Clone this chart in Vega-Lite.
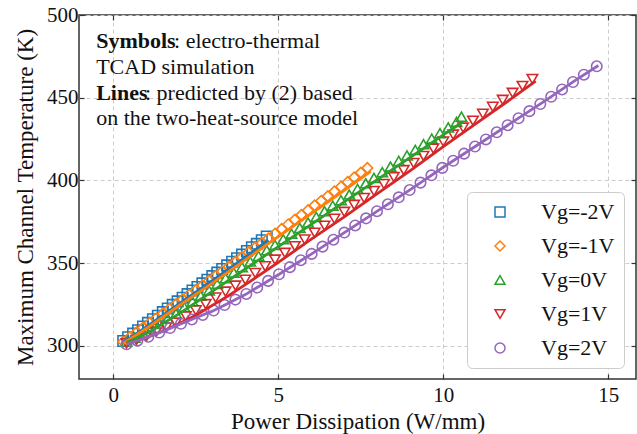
{
  "$schema": "https://vega.github.io/schema/vega-lite/v6.json",
  "width": 557,
  "height": 364,
  "autosize": {"type": "none"},
  "padding": {"left": 79, "top": 15, "right": 1, "bottom": 55},
  "background": "white",
  "config": {
    "view": {"stroke": "#333", "strokeWidth": 1.5},
    "font": "Liberation Serif"
  },
  "datasets": {
    "sim": [
      {"s": "Vg=-2V", "p": 0.30, "t": 303.0}, {"s": "Vg=-2V", "p": 0.45, "t": 305.2}, {"s": "Vg=-2V", "p": 0.60, "t": 307.4}, {"s": "Vg=-2V", "p": 0.75, "t": 309.5}, {"s": "Vg=-2V", "p": 0.90, "t": 311.7}, {"s": "Vg=-2V", "p": 1.05, "t": 313.9}, {"s": "Vg=-2V", "p": 1.20, "t": 316.1}, {"s": "Vg=-2V", "p": 1.35, "t": 318.2}, {"s": "Vg=-2V", "p": 1.50, "t": 320.4}, {"s": "Vg=-2V", "p": 1.65, "t": 322.6}, {"s": "Vg=-2V", "p": 1.80, "t": 324.8}, {"s": "Vg=-2V", "p": 1.95, "t": 326.9}, {"s": "Vg=-2V", "p": 2.10, "t": 329.1}, {"s": "Vg=-2V", "p": 2.25, "t": 331.3}, {"s": "Vg=-2V", "p": 2.40, "t": 333.5}, {"s": "Vg=-2V", "p": 2.55, "t": 335.6}, {"s": "Vg=-2V", "p": 2.70, "t": 337.8}, {"s": "Vg=-2V", "p": 2.85, "t": 340.0}, {"s": "Vg=-2V", "p": 3.00, "t": 342.2}, {"s": "Vg=-2V", "p": 3.15, "t": 344.3}, {"s": "Vg=-2V", "p": 3.30, "t": 346.5}, {"s": "Vg=-2V", "p": 3.45, "t": 348.7}, {"s": "Vg=-2V", "p": 3.60, "t": 350.9}, {"s": "Vg=-2V", "p": 3.75, "t": 353.0}, {"s": "Vg=-2V", "p": 3.90, "t": 355.2}, {"s": "Vg=-2V", "p": 4.05, "t": 357.4}, {"s": "Vg=-2V", "p": 4.20, "t": 359.6}, {"s": "Vg=-2V", "p": 4.35, "t": 361.7}, {"s": "Vg=-2V", "p": 4.50, "t": 363.9}, {"s": "Vg=-2V", "p": 4.65, "t": 366.1},
      {"s": "Vg=-1V", "p": 0.3, "t": 302.5}, {"s": "Vg=-1V", "p": 0.5, "t": 305.3}, {"s": "Vg=-1V", "p": 0.7, "t": 308.2}, {"s": "Vg=-1V", "p": 0.9, "t": 311.0}, {"s": "Vg=-1V", "p": 1.1, "t": 313.9}, {"s": "Vg=-1V", "p": 1.3, "t": 316.7}, {"s": "Vg=-1V", "p": 1.5, "t": 319.5}, {"s": "Vg=-1V", "p": 1.7, "t": 322.4}, {"s": "Vg=-1V", "p": 1.9, "t": 325.2}, {"s": "Vg=-1V", "p": 2.1, "t": 328.1}, {"s": "Vg=-1V", "p": 2.3, "t": 330.9}, {"s": "Vg=-1V", "p": 2.5, "t": 333.7}, {"s": "Vg=-1V", "p": 2.7, "t": 336.6}, {"s": "Vg=-1V", "p": 2.9, "t": 339.4}, {"s": "Vg=-1V", "p": 3.1, "t": 342.3}, {"s": "Vg=-1V", "p": 3.3, "t": 345.1}, {"s": "Vg=-1V", "p": 3.5, "t": 347.9}, {"s": "Vg=-1V", "p": 3.7, "t": 350.8}, {"s": "Vg=-1V", "p": 3.9, "t": 353.6}, {"s": "Vg=-1V", "p": 4.1, "t": 356.5}, {"s": "Vg=-1V", "p": 4.3, "t": 359.3}, {"s": "Vg=-1V", "p": 4.5, "t": 362.1}, {"s": "Vg=-1V", "p": 4.7, "t": 365.0}, {"s": "Vg=-1V", "p": 4.9, "t": 367.8}, {"s": "Vg=-1V", "p": 5.1, "t": 370.7}, {"s": "Vg=-1V", "p": 5.3, "t": 373.5}, {"s": "Vg=-1V", "p": 5.5, "t": 376.3}, {"s": "Vg=-1V", "p": 5.7, "t": 379.2}, {"s": "Vg=-1V", "p": 5.9, "t": 382.0}, {"s": "Vg=-1V", "p": 6.1, "t": 384.9}, {"s": "Vg=-1V", "p": 6.3, "t": 387.7}, {"s": "Vg=-1V", "p": 6.5, "t": 390.5}, {"s": "Vg=-1V", "p": 6.7, "t": 393.4}, {"s": "Vg=-1V", "p": 6.9, "t": 396.2}, {"s": "Vg=-1V", "p": 7.1, "t": 399.1}, {"s": "Vg=-1V", "p": 7.3, "t": 401.9}, {"s": "Vg=-1V", "p": 7.5, "t": 404.7}, {"s": "Vg=-1V", "p": 7.7, "t": 407.6},
      {"s": "Vg=0V", "p": 0.40, "t": 302.5}, {"s": "Vg=0V", "p": 0.65, "t": 305.0}, {"s": "Vg=0V", "p": 0.90, "t": 307.5}, {"s": "Vg=0V", "p": 1.15, "t": 310.3}, {"s": "Vg=0V", "p": 1.40, "t": 313.3}, {"s": "Vg=0V", "p": 1.65, "t": 316.5}, {"s": "Vg=0V", "p": 1.90, "t": 319.5}, {"s": "Vg=0V", "p": 2.15, "t": 323.5}, {"s": "Vg=0V", "p": 2.40, "t": 326.9}, {"s": "Vg=0V", "p": 2.65, "t": 330.3}, {"s": "Vg=0V", "p": 2.90, "t": 333.6}, {"s": "Vg=0V", "p": 3.15, "t": 337.5}, {"s": "Vg=0V", "p": 3.40, "t": 340.9}, {"s": "Vg=0V", "p": 3.65, "t": 344.3}, {"s": "Vg=0V", "p": 3.90, "t": 347.6}, {"s": "Vg=0V", "p": 4.15, "t": 351.0}, {"s": "Vg=0V", "p": 4.40, "t": 354.4}, {"s": "Vg=0V", "p": 4.65, "t": 357.8}, {"s": "Vg=0V", "p": 4.90, "t": 361.1}, {"s": "Vg=0V", "p": 5.15, "t": 364.5}, {"s": "Vg=0V", "p": 5.40, "t": 367.9}, {"s": "Vg=0V", "p": 5.65, "t": 371.3}, {"s": "Vg=0V", "p": 5.90, "t": 374.6}, {"s": "Vg=0V", "p": 6.15, "t": 378.0}, {"s": "Vg=0V", "p": 6.40, "t": 381.4}, {"s": "Vg=0V", "p": 6.65, "t": 384.8}, {"s": "Vg=0V", "p": 6.90, "t": 388.1}, {"s": "Vg=0V", "p": 7.15, "t": 391.5}, {"s": "Vg=0V", "p": 7.40, "t": 394.9}, {"s": "Vg=0V", "p": 7.65, "t": 398.3}, {"s": "Vg=0V", "p": 7.90, "t": 401.6}, {"s": "Vg=0V", "p": 8.15, "t": 405.0}, {"s": "Vg=0V", "p": 8.40, "t": 408.4}, {"s": "Vg=0V", "p": 8.65, "t": 411.8}, {"s": "Vg=0V", "p": 8.90, "t": 415.1}, {"s": "Vg=0V", "p": 9.15, "t": 418.5}, {"s": "Vg=0V", "p": 9.40, "t": 421.9}, {"s": "Vg=0V", "p": 9.65, "t": 425.3}, {"s": "Vg=0V", "p": 9.90, "t": 428.6}, {"s": "Vg=0V", "p": 10.15, "t": 432.0}, {"s": "Vg=0V", "p": 10.40, "t": 435.4}, {"s": "Vg=0V", "p": 10.55, "t": 438.5},
      {"s": "Vg=1V", "p": 0.4, "t": 301.5}, {"s": "Vg=1V", "p": 0.7, "t": 303.5}, {"s": "Vg=1V", "p": 1.0, "t": 305.8}, {"s": "Vg=1V", "p": 1.3, "t": 308.5}, {"s": "Vg=1V", "p": 1.6, "t": 311.0}, {"s": "Vg=1V", "p": 1.9, "t": 314.0}, {"s": "Vg=1V", "p": 2.2, "t": 317.8}, {"s": "Vg=1V", "p": 2.5, "t": 321.5}, {"s": "Vg=1V", "p": 2.8, "t": 325.2}, {"s": "Vg=1V", "p": 3.1, "t": 329.2}, {"s": "Vg=1V", "p": 3.4, "t": 332.8}, {"s": "Vg=1V", "p": 3.7, "t": 336.4}, {"s": "Vg=1V", "p": 4.0, "t": 340.0}, {"s": "Vg=1V", "p": 4.3, "t": 344.0}, {"s": "Vg=1V", "p": 4.6, "t": 348.1}, {"s": "Vg=1V", "p": 4.9, "t": 352.1}, {"s": "Vg=1V", "p": 5.2, "t": 356.2}, {"s": "Vg=1V", "p": 5.5, "t": 360.2}, {"s": "Vg=1V", "p": 5.8, "t": 364.3}, {"s": "Vg=1V", "p": 6.1, "t": 368.4}, {"s": "Vg=1V", "p": 6.4, "t": 372.6}, {"s": "Vg=1V", "p": 6.7, "t": 376.8}, {"s": "Vg=1V", "p": 7.0, "t": 381.0}, {"s": "Vg=1V", "p": 7.3, "t": 385.2}, {"s": "Vg=1V", "p": 7.6, "t": 389.4}, {"s": "Vg=1V", "p": 7.9, "t": 393.6}, {"s": "Vg=1V", "p": 8.2, "t": 397.8}, {"s": "Vg=1V", "p": 8.5, "t": 402.0}, {"s": "Vg=1V", "p": 8.8, "t": 406.2}, {"s": "Vg=1V", "p": 9.1, "t": 410.5}, {"s": "Vg=1V", "p": 9.4, "t": 414.8}, {"s": "Vg=1V", "p": 9.7, "t": 419.2}, {"s": "Vg=1V", "p": 10.0, "t": 423.5}, {"s": "Vg=1V", "p": 10.3, "t": 427.7}, {"s": "Vg=1V", "p": 10.6, "t": 431.9}, {"s": "Vg=1V", "p": 10.9, "t": 436.1}, {"s": "Vg=1V", "p": 11.2, "t": 440.3}, {"s": "Vg=1V", "p": 11.5, "t": 444.5}, {"s": "Vg=1V", "p": 11.8, "t": 448.7}, {"s": "Vg=1V", "p": 12.1, "t": 452.9}, {"s": "Vg=1V", "p": 12.4, "t": 457.1}, {"s": "Vg=1V", "p": 12.7, "t": 461.3},
      {"s": "Vg=2V", "p": 0.4, "t": 301.0}, {"s": "Vg=2V", "p": 0.73, "t": 303.2}, {"s": "Vg=2V", "p": 1.06, "t": 305.5}, {"s": "Vg=2V", "p": 1.39, "t": 308.1}, {"s": "Vg=2V", "p": 1.72, "t": 310.8}, {"s": "Vg=2V", "p": 2.05, "t": 313.4}, {"s": "Vg=2V", "p": 2.38, "t": 316.0}, {"s": "Vg=2V", "p": 2.71, "t": 318.7}, {"s": "Vg=2V", "p": 3.04, "t": 321.4}, {"s": "Vg=2V", "p": 3.37, "t": 324.7}, {"s": "Vg=2V", "p": 3.7, "t": 328.0}, {"s": "Vg=2V", "p": 4.03, "t": 331.4}, {"s": "Vg=2V", "p": 4.36, "t": 335.3}, {"s": "Vg=2V", "p": 4.69, "t": 339.3}, {"s": "Vg=2V", "p": 5.02, "t": 343.3}, {"s": "Vg=2V", "p": 5.35, "t": 347.6}, {"s": "Vg=2V", "p": 5.68, "t": 351.8}, {"s": "Vg=2V", "p": 6.01, "t": 355.6}, {"s": "Vg=2V", "p": 6.34, "t": 360.0}, {"s": "Vg=2V", "p": 6.67, "t": 364.2}, {"s": "Vg=2V", "p": 7.0, "t": 368.5}, {"s": "Vg=2V", "p": 7.33, "t": 372.8}, {"s": "Vg=2V", "p": 7.66, "t": 377.1}, {"s": "Vg=2V", "p": 7.99, "t": 381.4}, {"s": "Vg=2V", "p": 8.32, "t": 385.6}, {"s": "Vg=2V", "p": 8.65, "t": 389.8}, {"s": "Vg=2V", "p": 8.98, "t": 394.2}, {"s": "Vg=2V", "p": 9.31, "t": 398.7}, {"s": "Vg=2V", "p": 9.64, "t": 403.1}, {"s": "Vg=2V", "p": 9.97, "t": 407.6}, {"s": "Vg=2V", "p": 10.3, "t": 411.9}, {"s": "Vg=2V", "p": 10.63, "t": 416.2}, {"s": "Vg=2V", "p": 10.96, "t": 420.5}, {"s": "Vg=2V", "p": 11.29, "t": 424.8}, {"s": "Vg=2V", "p": 11.62, "t": 429.1}, {"s": "Vg=2V", "p": 11.95, "t": 433.4}, {"s": "Vg=2V", "p": 12.28, "t": 437.6}, {"s": "Vg=2V", "p": 12.61, "t": 441.9}, {"s": "Vg=2V", "p": 12.94, "t": 446.2}, {"s": "Vg=2V", "p": 13.27, "t": 450.6}, {"s": "Vg=2V", "p": 13.6, "t": 455.0}, {"s": "Vg=2V", "p": 13.93, "t": 459.5}, {"s": "Vg=2V", "p": 14.26, "t": 463.9}, {"s": "Vg=2V", "p": 14.65, "t": 469.0}
    ],
    "model": [
      {"s": "Vg=-2V", "p": 0.3, "t": 302.0}, {"s": "Vg=-2V", "p": 1.0, "t": 311.5}, {"s": "Vg=-2V", "p": 2.0, "t": 325.5}, {"s": "Vg=-2V", "p": 3.0, "t": 339.5}, {"s": "Vg=-2V", "p": 4.0, "t": 353.5}, {"s": "Vg=-2V", "p": 4.7, "t": 364.0},
      {"s": "Vg=-1V", "p": 0.3, "t": 301.5}, {"s": "Vg=-1V", "p": 1.0, "t": 310.5}, {"s": "Vg=-1V", "p": 2.0, "t": 324.5}, {"s": "Vg=-1V", "p": 3.0, "t": 338.0}, {"s": "Vg=-1V", "p": 4.0, "t": 352.0}, {"s": "Vg=-1V", "p": 5.0, "t": 366.0}, {"s": "Vg=-1V", "p": 6.0, "t": 380.0}, {"s": "Vg=-1V", "p": 7.0, "t": 394.0}, {"s": "Vg=-1V", "p": 7.8, "t": 405.5},
      {"s": "Vg=0V", "p": 0.4, "t": 302.0}, {"s": "Vg=0V", "p": 1.0, "t": 307.5}, {"s": "Vg=0V", "p": 2.0, "t": 319.5}, {"s": "Vg=0V", "p": 3.0, "t": 333.0}, {"s": "Vg=0V", "p": 4.0, "t": 346.5}, {"s": "Vg=0V", "p": 5.0, "t": 360.0}, {"s": "Vg=0V", "p": 6.0, "t": 373.5}, {"s": "Vg=0V", "p": 7.0, "t": 387.0}, {"s": "Vg=0V", "p": 8.0, "t": 400.5}, {"s": "Vg=0V", "p": 9.0, "t": 414.0}, {"s": "Vg=0V", "p": 10.0, "t": 427.5}, {"s": "Vg=0V", "p": 10.6, "t": 435.5},
      {"s": "Vg=1V", "p": 0.4, "t": 301.0}, {"s": "Vg=1V", "p": 1.0, "t": 305.0}, {"s": "Vg=1V", "p": 1.5, "t": 309.0}, {"s": "Vg=1V", "p": 2.0, "t": 313.5}, {"s": "Vg=1V", "p": 2.5, "t": 318.5}, {"s": "Vg=1V", "p": 3.0, "t": 324.5}, {"s": "Vg=1V", "p": 3.5, "t": 330.5}, {"s": "Vg=1V", "p": 4.0, "t": 337.0}, {"s": "Vg=1V", "p": 5.0, "t": 350.5}, {"s": "Vg=1V", "p": 6.0, "t": 364.5}, {"s": "Vg=1V", "p": 7.0, "t": 378.0}, {"s": "Vg=1V", "p": 8.0, "t": 392.0}, {"s": "Vg=1V", "p": 9.0, "t": 406.0}, {"s": "Vg=1V", "p": 10.0, "t": 420.5}, {"s": "Vg=1V", "p": 11.0, "t": 434.5}, {"s": "Vg=1V", "p": 12.0, "t": 448.5}, {"s": "Vg=1V", "p": 12.8, "t": 460.0},
      {"s": "Vg=2V", "p": 0.4, "t": 301.0}, {"s": "Vg=2V", "p": 1.0, "t": 305.0}, {"s": "Vg=2V", "p": 1.5, "t": 308.8}, {"s": "Vg=2V", "p": 2.0, "t": 313.0}, {"s": "Vg=2V", "p": 2.5, "t": 317.0}, {"s": "Vg=2V", "p": 3.0, "t": 321.0}, {"s": "Vg=2V", "p": 3.5, "t": 326.0}, {"s": "Vg=2V", "p": 4.0, "t": 331.0}, {"s": "Vg=2V", "p": 4.5, "t": 337.0}, {"s": "Vg=2V", "p": 5.0, "t": 343.0}, {"s": "Vg=2V", "p": 6.0, "t": 355.5}, {"s": "Vg=2V", "p": 7.0, "t": 368.5}, {"s": "Vg=2V", "p": 8.0, "t": 381.5}, {"s": "Vg=2V", "p": 9.0, "t": 394.5}, {"s": "Vg=2V", "p": 10.0, "t": 408.0}, {"s": "Vg=2V", "p": 11.0, "t": 421.0}, {"s": "Vg=2V", "p": 12.0, "t": 434.0}, {"s": "Vg=2V", "p": 13.0, "t": 447.0}, {"s": "Vg=2V", "p": 14.0, "t": 460.5}, {"s": "Vg=2V", "p": 14.7, "t": 469.5}
    ],
    "boldNotes": [
      {"p": -0.52, "t": 480.3, "label": "Symbols"},
      {"p": -0.52, "t": 448.7, "label": "Lines"}
    ],
    "plainNotes": [
      {"p": 1.84, "t": 480.3, "label": ": electro-thermal"},
      {"p": -0.52, "t": 464.4, "label": "TCAD simulation"},
      {"p": 0.96, "t": 448.7, "label": ": predicted by (2) based"},
      {"p": -0.52, "t": 433.6, "label": "on the two-heat-source model"}
    ]
  },
  "layer": [
    {
      "data": {"name": "sim"},
      "mark": {"type": "point", "filled": false, "strokeWidth": 1.6, "size": 110, "opacity": 1},
      "encoding": {
        "x": {
          "field": "p", "type": "quantitative",
          "scale": {"domain": [-1.04, 15.84], "nice": false, "zero": false},
          "axis": {
            "orient": "bottom", "values": [0, 5, 10, 15], "title": "Power Dissipation (W/mm)",
            "domain": false, "tickSize": -5, "tickColor": "#333", "tickWidth": 1.2,
            "labelFont": "Liberation Serif", "labelFontSize": 21, "labelColor": "#111", "labelPadding": 10,
            "grid": true, "gridDash": [4, 3], "gridColor": "#cccccc", "gridWidth": 1,
            "titleFont": "Liberation Serif", "titleFontSize": 23, "titleFontWeight": "normal", "titleColor": "#111", "titlePadding": 5
          }
        },
        "y": {
          "field": "t", "type": "quantitative",
          "scale": {"domain": [280, 500], "nice": false, "zero": false},
          "axis": {
            "orient": "left", "values": [300, 350, 400, 450, 500], "title": "Maximum Channel Temperature (K)",
            "domain": false, "tickSize": -5, "tickColor": "#333", "tickWidth": 1.2,
            "labelFont": "Liberation Serif", "labelFontSize": 21, "labelColor": "#111", "labelPadding": 6,
            "grid": true, "gridDash": [4, 3], "gridColor": "#cccccc", "gridWidth": 1,
            "titleFont": "Liberation Serif", "titleFontSize": 23, "titleFontWeight": "normal", "titleColor": "#111", "titlePadding": 9
          }
        },
        "color": {
          "field": "s", "type": "nominal",
          "scale": {"domain": ["Vg=-2V", "Vg=-1V", "Vg=0V", "Vg=1V", "Vg=2V"], "range": ["#1f77b4", "#ff7f0e", "#2ca02c", "#d62728", "#9467bd"]},
          "legend": {
            "title": null, "orient": "none", "legendX": 388, "legendY": 177,
            "padding": 9, "fillColor": "white", "strokeColor": "#cccccc", "cornerRadius": 5,
            "labelFont": "Liberation Serif", "labelFontSize": 22, "labelColor": "#111", "labelOffset": 30,
            "symbolOffset": 13, "symbolSize": 100, "symbolStrokeWidth": 1.5, "symbolFillColor": "transparent",
            "rowPadding": 12
          }
        },
        "shape": {
          "field": "s", "type": "nominal",
          "scale": {"domain": ["Vg=-2V", "Vg=-1V", "Vg=0V", "Vg=1V", "Vg=2V"], "range": ["square", "diamond", "triangle-up", "triangle-down", "circle"]},
          "legend": {
            "title": null, "orient": "none", "legendX": 388, "legendY": 177,
            "padding": 9, "fillColor": "white", "strokeColor": "#cccccc", "cornerRadius": 5,
            "labelFont": "Liberation Serif", "labelFontSize": 22, "labelColor": "#111", "labelOffset": 30,
            "symbolOffset": 13, "symbolSize": 100, "symbolStrokeWidth": 1.5, "symbolFillColor": "transparent",
            "rowPadding": 12
          }
        }
      }
    },
    {
      "data": {"name": "model"},
      "mark": {"type": "line", "strokeWidth": 2.8},
      "encoding": {
        "x": {"field": "p", "type": "quantitative", "axis": {"orient": "top", "values": [0, 5, 10, 15], "labels": false, "title": null, "domain": false, "grid": false, "tickSize": -5, "tickColor": "#333", "tickWidth": 1.2}},
        "y": {"field": "t", "type": "quantitative", "axis": {"orient": "right", "values": [300, 350, 400, 450, 500], "labels": false, "title": null, "domain": false, "grid": false, "tickSize": -5, "tickColor": "#333", "tickWidth": 1.2}},
        "stroke": {
          "field": "s", "type": "nominal",
          "scale": {"domain": ["Vg=-2V", "Vg=-1V", "Vg=0V", "Vg=1V", "Vg=2V"], "range": ["#1f77b4", "#ff7f0e", "#2ca02c", "#d62728", "#9467bd"]},
          "legend": null
        },
        "order": {"field": "p", "type": "quantitative"}
      }
    },
    {
      "data": {"name": "boldNotes"},
      "mark": {"type": "text", "align": "left", "baseline": "alphabetic", "font": "Liberation Serif", "fontSize": 22, "fontWeight": "bold", "color": "#111"},
      "encoding": {
        "x": {"field": "p", "type": "quantitative", "axis": null},
        "y": {"field": "t", "type": "quantitative", "axis": null},
        "text": {"field": "label"}
      }
    },
    {
      "data": {"name": "plainNotes"},
      "mark": {"type": "text", "align": "left", "baseline": "alphabetic", "font": "Liberation Serif", "fontSize": 22, "color": "#111"},
      "encoding": {
        "x": {"field": "p", "type": "quantitative", "axis": null},
        "y": {"field": "t", "type": "quantitative", "axis": null},
        "text": {"field": "label"}
      }
    }
  ],
  "resolve": {"axis": {"x": "independent", "y": "independent"}}
}
